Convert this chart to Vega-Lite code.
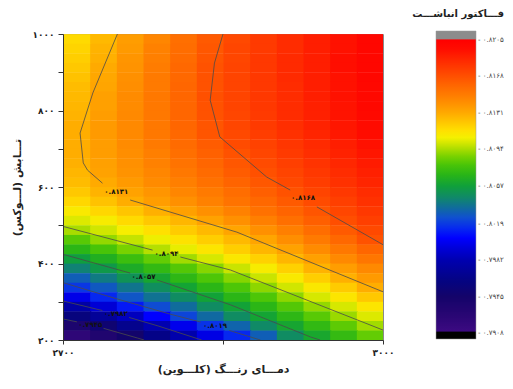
{
"$schema":"https://vega.github.io/schema/vega-lite/v6.json",
"width":320,"height":306,
"autosize":"none",
"padding":{"left":63,"top":34,"right":130,"bottom":49},
"background":"white",
"config":{"view":{"stroke":"#8a8a8a","strokeWidth":1},"rect":{"binSpacing":0},"bar":{"binSpacing":0}},
"datasets":{
"grid":[
{"t":2700,"l":975,"z":0.8115},{"t":2725,"l":975,"z":0.8126},{"t":2750,"l":975,"z":0.8136},{"t":2775,"l":975,"z":0.8145},{"t":2800,"l":975,"z":0.8155},{"t":2825,"l":975,"z":0.8164},{"t":2850,"l":975,"z":0.8171},{"t":2875,"l":975,"z":0.8177},{"t":2900,"l":975,"z":0.8183},{"t":2925,"l":975,"z":0.8189},{"t":2950,"l":975,"z":0.8194},{"t":2975,"l":975,"z":0.8200},
{"t":2700,"l":950,"z":0.8117},{"t":2725,"l":950,"z":0.8128},{"t":2750,"l":950,"z":0.8137},{"t":2775,"l":950,"z":0.8147},{"t":2800,"l":950,"z":0.8156},{"t":2825,"l":950,"z":0.8165},{"t":2850,"l":950,"z":0.8172},{"t":2875,"l":950,"z":0.8177},{"t":2900,"l":950,"z":0.8183},{"t":2925,"l":950,"z":0.8189},{"t":2950,"l":950,"z":0.8194},{"t":2975,"l":950,"z":0.8200},
{"t":2700,"l":925,"z":0.8119},{"t":2725,"l":925,"z":0.8129},{"t":2750,"l":925,"z":0.8139},{"t":2775,"l":925,"z":0.8148},{"t":2800,"l":925,"z":0.8157},{"t":2825,"l":925,"z":0.8166},{"t":2850,"l":925,"z":0.8172},{"t":2875,"l":925,"z":0.8178},{"t":2900,"l":925,"z":0.8184},{"t":2925,"l":925,"z":0.8189},{"t":2950,"l":925,"z":0.8195},{"t":2975,"l":925,"z":0.8200},
{"t":2700,"l":900,"z":0.8121},{"t":2725,"l":900,"z":0.8131},{"t":2750,"l":900,"z":0.8140},{"t":2775,"l":900,"z":0.8149},{"t":2800,"l":900,"z":0.8158},{"t":2825,"l":900,"z":0.8167},{"t":2850,"l":900,"z":0.8173},{"t":2875,"l":900,"z":0.8178},{"t":2900,"l":900,"z":0.8184},{"t":2925,"l":900,"z":0.8189},{"t":2950,"l":900,"z":0.8195},{"t":2975,"l":900,"z":0.8200},
{"t":2700,"l":875,"z":0.8123},{"t":2725,"l":875,"z":0.8132},{"t":2750,"l":875,"z":0.8141},{"t":2775,"l":875,"z":0.8150},{"t":2800,"l":875,"z":0.8158},{"t":2825,"l":875,"z":0.8167},{"t":2850,"l":875,"z":0.8173},{"t":2875,"l":875,"z":0.8178},{"t":2900,"l":875,"z":0.8184},{"t":2925,"l":875,"z":0.8189},{"t":2950,"l":875,"z":0.8194},{"t":2975,"l":875,"z":0.8200},
{"t":2700,"l":850,"z":0.8125},{"t":2725,"l":850,"z":0.8133},{"t":2750,"l":850,"z":0.8142},{"t":2775,"l":850,"z":0.8150},{"t":2800,"l":850,"z":0.8159},{"t":2825,"l":850,"z":0.8167},{"t":2850,"l":850,"z":0.8173},{"t":2875,"l":850,"z":0.8178},{"t":2900,"l":850,"z":0.8183},{"t":2925,"l":850,"z":0.8189},{"t":2950,"l":850,"z":0.8194},{"t":2975,"l":850,"z":0.8199},
{"t":2700,"l":825,"z":0.8126},{"t":2725,"l":825,"z":0.8135},{"t":2750,"l":825,"z":0.8143},{"t":2775,"l":825,"z":0.8151},{"t":2800,"l":825,"z":0.8159},{"t":2825,"l":825,"z":0.8168},{"t":2850,"l":825,"z":0.8173},{"t":2875,"l":825,"z":0.8178},{"t":2900,"l":825,"z":0.8183},{"t":2925,"l":825,"z":0.8189},{"t":2950,"l":825,"z":0.8194},{"t":2975,"l":825,"z":0.8199},
{"t":2700,"l":800,"z":0.8127},{"t":2725,"l":800,"z":0.8135},{"t":2750,"l":800,"z":0.8143},{"t":2775,"l":800,"z":0.8151},{"t":2800,"l":800,"z":0.8159},{"t":2825,"l":800,"z":0.8167},{"t":2850,"l":800,"z":0.8173},{"t":2875,"l":800,"z":0.8178},{"t":2900,"l":800,"z":0.8183},{"t":2925,"l":800,"z":0.8188},{"t":2950,"l":800,"z":0.8193},{"t":2975,"l":800,"z":0.8199},
{"t":2700,"l":775,"z":0.8128},{"t":2725,"l":775,"z":0.8136},{"t":2750,"l":775,"z":0.8144},{"t":2775,"l":775,"z":0.8151},{"t":2800,"l":775,"z":0.8159},{"t":2825,"l":775,"z":0.8167},{"t":2850,"l":775,"z":0.8172},{"t":2875,"l":775,"z":0.8177},{"t":2900,"l":775,"z":0.8183},{"t":2925,"l":775,"z":0.8188},{"t":2950,"l":775,"z":0.8193},{"t":2975,"l":775,"z":0.8198},
{"t":2700,"l":750,"z":0.8130},{"t":2725,"l":750,"z":0.8137},{"t":2750,"l":750,"z":0.8144},{"t":2775,"l":750,"z":0.8151},{"t":2800,"l":750,"z":0.8159},{"t":2825,"l":750,"z":0.8166},{"t":2850,"l":750,"z":0.8172},{"t":2875,"l":750,"z":0.8177},{"t":2900,"l":750,"z":0.8182},{"t":2925,"l":750,"z":0.8187},{"t":2950,"l":750,"z":0.8192},{"t":2975,"l":750,"z":0.8197},
{"t":2700,"l":725,"z":0.8130},{"t":2725,"l":725,"z":0.8137},{"t":2750,"l":725,"z":0.8144},{"t":2775,"l":725,"z":0.8151},{"t":2800,"l":725,"z":0.8158},{"t":2825,"l":725,"z":0.8166},{"t":2850,"l":725,"z":0.8171},{"t":2875,"l":725,"z":0.8176},{"t":2900,"l":725,"z":0.8181},{"t":2925,"l":725,"z":0.8186},{"t":2950,"l":725,"z":0.8191},{"t":2975,"l":725,"z":0.8196},
{"t":2700,"l":700,"z":0.8130},{"t":2725,"l":700,"z":0.8136},{"t":2750,"l":700,"z":0.8143},{"t":2775,"l":700,"z":0.8150},{"t":2800,"l":700,"z":0.8157},{"t":2825,"l":700,"z":0.8163},{"t":2850,"l":700,"z":0.8170},{"t":2875,"l":700,"z":0.8174},{"t":2900,"l":700,"z":0.8179},{"t":2925,"l":700,"z":0.8184},{"t":2950,"l":700,"z":0.8189},{"t":2975,"l":700,"z":0.8194},
{"t":2700,"l":675,"z":0.8130},{"t":2725,"l":675,"z":0.8136},{"t":2750,"l":675,"z":0.8142},{"t":2775,"l":675,"z":0.8148},{"t":2800,"l":675,"z":0.8155},{"t":2825,"l":675,"z":0.8161},{"t":2850,"l":675,"z":0.8167},{"t":2875,"l":675,"z":0.8172},{"t":2900,"l":675,"z":0.8177},{"t":2925,"l":675,"z":0.8182},{"t":2950,"l":675,"z":0.8187},{"t":2975,"l":675,"z":0.8192},
{"t":2700,"l":650,"z":0.8129},{"t":2725,"l":650,"z":0.8135},{"t":2750,"l":650,"z":0.8141},{"t":2775,"l":650,"z":0.8147},{"t":2800,"l":650,"z":0.8153},{"t":2825,"l":650,"z":0.8159},{"t":2850,"l":650,"z":0.8165},{"t":2875,"l":650,"z":0.8170},{"t":2900,"l":650,"z":0.8175},{"t":2925,"l":650,"z":0.8180},{"t":2950,"l":650,"z":0.8185},{"t":2975,"l":650,"z":0.8190},
{"t":2700,"l":625,"z":0.8127},{"t":2725,"l":625,"z":0.8134},{"t":2750,"l":625,"z":0.8140},{"t":2775,"l":625,"z":0.8145},{"t":2800,"l":625,"z":0.8151},{"t":2825,"l":625,"z":0.8157},{"t":2850,"l":625,"z":0.8163},{"t":2875,"l":625,"z":0.8168},{"t":2900,"l":625,"z":0.8173},{"t":2925,"l":625,"z":0.8178},{"t":2950,"l":625,"z":0.8183},{"t":2975,"l":625,"z":0.8188},
{"t":2700,"l":600,"z":0.8125},{"t":2725,"l":600,"z":0.8131},{"t":2750,"l":600,"z":0.8137},{"t":2775,"l":600,"z":0.8143},{"t":2800,"l":600,"z":0.8148},{"t":2825,"l":600,"z":0.8154},{"t":2850,"l":600,"z":0.8160},{"t":2875,"l":600,"z":0.8165},{"t":2900,"l":600,"z":0.8171},{"t":2925,"l":600,"z":0.8176},{"t":2950,"l":600,"z":0.8181},{"t":2975,"l":600,"z":0.8186},
{"t":2700,"l":575,"z":0.8121},{"t":2725,"l":575,"z":0.8128},{"t":2750,"l":575,"z":0.8134},{"t":2775,"l":575,"z":0.8139},{"t":2800,"l":575,"z":0.8145},{"t":2825,"l":575,"z":0.8150},{"t":2850,"l":575,"z":0.8156},{"t":2875,"l":575,"z":0.8162},{"t":2900,"l":575,"z":0.8167},{"t":2925,"l":575,"z":0.8173},{"t":2950,"l":575,"z":0.8178},{"t":2975,"l":575,"z":0.8183},
{"t":2700,"l":550,"z":0.8116},{"t":2725,"l":550,"z":0.8123},{"t":2750,"l":550,"z":0.8130},{"t":2775,"l":550,"z":0.8136},{"t":2800,"l":550,"z":0.8141},{"t":2825,"l":550,"z":0.8147},{"t":2850,"l":550,"z":0.8153},{"t":2875,"l":550,"z":0.8158},{"t":2900,"l":550,"z":0.8164},{"t":2925,"l":550,"z":0.8170},{"t":2950,"l":550,"z":0.8175},{"t":2975,"l":550,"z":0.8181},
{"t":2700,"l":525,"z":0.8109},{"t":2725,"l":525,"z":0.8116},{"t":2750,"l":525,"z":0.8122},{"t":2775,"l":525,"z":0.8129},{"t":2800,"l":525,"z":0.8135},{"t":2825,"l":525,"z":0.8141},{"t":2850,"l":525,"z":0.8147},{"t":2875,"l":525,"z":0.8154},{"t":2900,"l":525,"z":0.8160},{"t":2925,"l":525,"z":0.8166},{"t":2950,"l":525,"z":0.8172},{"t":2975,"l":525,"z":0.8178},
{"t":2700,"l":500,"z":0.8102},{"t":2725,"l":500,"z":0.8108},{"t":2750,"l":500,"z":0.8115},{"t":2775,"l":500,"z":0.8121},{"t":2800,"l":500,"z":0.8127},{"t":2825,"l":500,"z":0.8134},{"t":2850,"l":500,"z":0.8141},{"t":2875,"l":500,"z":0.8148},{"t":2900,"l":500,"z":0.8155},{"t":2925,"l":500,"z":0.8162},{"t":2950,"l":500,"z":0.8169},{"t":2975,"l":500,"z":0.8175},
{"t":2700,"l":475,"z":0.8094},{"t":2725,"l":475,"z":0.8100},{"t":2750,"l":475,"z":0.8107},{"t":2775,"l":475,"z":0.8113},{"t":2800,"l":475,"z":0.8120},{"t":2825,"l":475,"z":0.8126},{"t":2850,"l":475,"z":0.8133},{"t":2875,"l":475,"z":0.8141},{"t":2900,"l":475,"z":0.8148},{"t":2925,"l":475,"z":0.8156},{"t":2950,"l":475,"z":0.8164},{"t":2975,"l":475,"z":0.8171},
{"t":2700,"l":450,"z":0.8081},{"t":2725,"l":450,"z":0.8091},{"t":2750,"l":450,"z":0.8098},{"t":2775,"l":450,"z":0.8105},{"t":2800,"l":450,"z":0.8112},{"t":2825,"l":450,"z":0.8119},{"t":2850,"l":450,"z":0.8126},{"t":2875,"l":450,"z":0.8133},{"t":2900,"l":450,"z":0.8142},{"t":2925,"l":450,"z":0.8150},{"t":2950,"l":450,"z":0.8158},{"t":2975,"l":450,"z":0.8167},
{"t":2700,"l":425,"z":0.8069},{"t":2725,"l":425,"z":0.8078},{"t":2750,"l":425,"z":0.8087},{"t":2775,"l":425,"z":0.8096},{"t":2800,"l":425,"z":0.8104},{"t":2825,"l":425,"z":0.8111},{"t":2850,"l":425,"z":0.8119},{"t":2875,"l":425,"z":0.8127},{"t":2900,"l":425,"z":0.8134},{"t":2925,"l":425,"z":0.8143},{"t":2950,"l":425,"z":0.8151},{"t":2975,"l":425,"z":0.8159},
{"t":2700,"l":400,"z":0.8056},{"t":2725,"l":400,"z":0.8065},{"t":2750,"l":400,"z":0.8074},{"t":2775,"l":400,"z":0.8083},{"t":2800,"l":400,"z":0.8093},{"t":2825,"l":400,"z":0.8101},{"t":2850,"l":400,"z":0.8110},{"t":2875,"l":400,"z":0.8118},{"t":2900,"l":400,"z":0.8127},{"t":2925,"l":400,"z":0.8135},{"t":2950,"l":400,"z":0.8144},{"t":2975,"l":400,"z":0.8152},
{"t":2700,"l":375,"z":0.8043},{"t":2725,"l":375,"z":0.8053},{"t":2750,"l":375,"z":0.8063},{"t":2775,"l":375,"z":0.8071},{"t":2800,"l":375,"z":0.8080},{"t":2825,"l":375,"z":0.8089},{"t":2850,"l":375,"z":0.8099},{"t":2875,"l":375,"z":0.8108},{"t":2900,"l":375,"z":0.8118},{"t":2925,"l":375,"z":0.8128},{"t":2950,"l":375,"z":0.8136},{"t":2975,"l":375,"z":0.8144},
{"t":2700,"l":350,"z":0.8030},{"t":2725,"l":350,"z":0.8040},{"t":2750,"l":350,"z":0.8050},{"t":2775,"l":350,"z":0.8060},{"t":2800,"l":350,"z":0.8070},{"t":2825,"l":350,"z":0.8079},{"t":2850,"l":350,"z":0.8089},{"t":2875,"l":350,"z":0.8099},{"t":2900,"l":350,"z":0.8109},{"t":2925,"l":350,"z":0.8119},{"t":2950,"l":350,"z":0.8129},{"t":2975,"l":350,"z":0.8137},
{"t":2700,"l":325,"z":0.8018},{"t":2725,"l":325,"z":0.8028},{"t":2750,"l":325,"z":0.8038},{"t":2775,"l":325,"z":0.8048},{"t":2800,"l":325,"z":0.8059},{"t":2825,"l":325,"z":0.8069},{"t":2850,"l":325,"z":0.8079},{"t":2875,"l":325,"z":0.8090},{"t":2900,"l":325,"z":0.8100},{"t":2925,"l":325,"z":0.8110},{"t":2950,"l":325,"z":0.8120},{"t":2975,"l":325,"z":0.8130},
{"t":2700,"l":300,"z":0.7998},{"t":2725,"l":300,"z":0.8014},{"t":2750,"l":300,"z":0.8027},{"t":2775,"l":300,"z":0.8037},{"t":2800,"l":300,"z":0.8047},{"t":2825,"l":300,"z":0.8058},{"t":2850,"l":300,"z":0.8069},{"t":2875,"l":300,"z":0.8079},{"t":2900,"l":300,"z":0.8090},{"t":2925,"l":300,"z":0.8101},{"t":2950,"l":300,"z":0.8111},{"t":2975,"l":300,"z":0.8121},
{"t":2700,"l":275,"z":0.7977},{"t":2725,"l":275,"z":0.7993},{"t":2750,"l":275,"z":0.8010},{"t":2775,"l":275,"z":0.8024},{"t":2800,"l":275,"z":0.8035},{"t":2825,"l":275,"z":0.8047},{"t":2850,"l":275,"z":0.8058},{"t":2875,"l":275,"z":0.8069},{"t":2900,"l":275,"z":0.8080},{"t":2925,"l":275,"z":0.8091},{"t":2950,"l":275,"z":0.8101},{"t":2975,"l":275,"z":0.8111},
{"t":2700,"l":250,"z":0.7958},{"t":2725,"l":250,"z":0.7971},{"t":2750,"l":250,"z":0.7986},{"t":2775,"l":250,"z":0.8004},{"t":2800,"l":250,"z":0.8022},{"t":2825,"l":250,"z":0.8034},{"t":2850,"l":250,"z":0.8047},{"t":2875,"l":250,"z":0.8059},{"t":2900,"l":250,"z":0.8070},{"t":2925,"l":250,"z":0.8081},{"t":2950,"l":250,"z":0.8092},{"t":2975,"l":250,"z":0.8102},
{"t":2700,"l":225,"z":0.7938},{"t":2725,"l":225,"z":0.7950},{"t":2750,"l":225,"z":0.7966},{"t":2775,"l":225,"z":0.7982},{"t":2800,"l":225,"z":0.7999},{"t":2825,"l":225,"z":0.8017},{"t":2850,"l":225,"z":0.8032},{"t":2875,"l":225,"z":0.8046},{"t":2900,"l":225,"z":0.8060},{"t":2925,"l":225,"z":0.8071},{"t":2950,"l":225,"z":0.8082},{"t":2975,"l":225,"z":0.8093},
{"t":2700,"l":200,"z":0.7922},{"t":2725,"l":200,"z":0.7934},{"t":2750,"l":200,"z":0.7946},{"t":2775,"l":200,"z":0.7963},{"t":2800,"l":200,"z":0.7980},{"t":2825,"l":200,"z":0.7997},{"t":2850,"l":200,"z":0.8014},{"t":2875,"l":200,"z":0.8030},{"t":2900,"l":200,"z":0.8047},{"t":2925,"l":200,"z":0.8061},{"t":2950,"l":200,"z":0.8072},{"t":2975,"l":200,"z":0.8083}
],
"lines":[
{"s":"k8a","i":0,"t":2850,"l":1000},{"s":"k8a","i":1,"t":2842,"l":924},{"s":"k8a","i":2,"t":2838,"l":827},{"s":"k8a","i":3,"t":2847,"l":731},{"s":"k8a","i":4,"t":2891,"l":626},{"s":"k8a","i":5,"t":2913,"l":592},
{"s":"k8b","i":0,"t":2938,"l":548},{"s":"k8b","i":1,"t":2997,"l":454},{"s":"k8b","i":2,"t":3000,"l":449},
{"s":"k7a","i":0,"t":2751,"l":1000},{"s":"k7a","i":1,"t":2728,"l":846},{"s":"k7a","i":2,"t":2716,"l":741},{"s":"k7a","i":3,"t":2719,"l":663},{"s":"k7a","i":4,"t":2723,"l":644},{"s":"k7a","i":5,"t":2737,"l":610},
{"s":"k7b","i":0,"t":2763,"l":566},{"s":"k7b","i":1,"t":2863,"l":482},{"s":"k7b","i":2,"t":3000,"l":326},
{"s":"k6a","i":0,"t":2700,"l":497},{"s":"k6a","i":1,"t":2784,"l":435},
{"s":"k6b","i":0,"t":2810,"l":417},{"s":"k6b","i":1,"t":2857,"l":383},{"s":"k6b","i":2,"t":3000,"l":226},
{"s":"k5a","i":0,"t":2700,"l":424},{"s":"k5a","i":1,"t":2763,"l":375},
{"s":"k5b","i":0,"t":2788,"l":357},{"s":"k5b","i":1,"t":2857,"l":292},{"s":"k5b","i":2,"t":2932,"l":208},{"s":"k5b","i":3,"t":2941,"l":200},
{"s":"k4a","i":0,"t":2700,"l":350},{"s":"k4a","i":1,"t":2750,"l":308},{"s":"k4a","i":2,"t":2800,"l":268},{"s":"k4a","i":3,"t":2829,"l":247},
{"s":"k4b","i":0,"t":2856,"l":225},{"s":"k4b","i":1,"t":2885,"l":200},
{"s":"k3a","i":0,"t":2700,"l":302},{"s":"k3a","i":1,"t":2737,"l":277},
{"s":"k3b","i":0,"t":2762,"l":259},{"s":"k3b","i":1,"t":2790,"l":236},{"s":"k3b","i":2,"t":2830,"l":200},
{"s":"k2a","i":0,"t":2700,"l":255},{"s":"k2a","i":1,"t":2713,"l":247.5},
{"s":"k2b","i":0,"t":2738,"l":230.5},{"s":"k2b","i":1,"t":2770,"l":205},{"s":"k2b","i":2,"t":2776,"l":200}
],
"labels":[
{"t":2925,"l":571,"txt":"۰.۸۱۶۸"},
{"t":2750,"l":588,"txt":"۰.۸۱۳۱"},
{"t":2797,"l":426,"txt":"۰.۸۰۹۴"},
{"t":2775.5,"l":366,"txt":"۰.۸۰۵۷"},
{"t":2842.5,"l":236,"txt":"۰.۸۰۱۹"},
{"t":2749.5,"l":268,"txt":"۰.۷۹۸۲"},
{"t":2725.5,"l":239,"txt":"۰.۷۹۴۵"}
]
},
"layer":[
{"data":{"name":"grid"},
"mark":{"type":"rect","clip":true,"binSpacing":0},
"encoding":{
"x":{"field":"t","type":"quantitative","bin":{"binned":true,"step":26},"scale":{"domain":[2700,3000],"nice":false,"zero":false},
"axis":{"title":"دمـــای رنـــگ (کلـــوین)","values":[2700,2850,3000],"labelExpr":"datum.value == 2850 ? '' : replace(replace(replace(replace(replace(replace(replace(replace(replace(replace(format(datum.value,'d'),regexp('0','g'),'۰'),regexp('1','g'),'۱'),regexp('2','g'),'۲'),regexp('3','g'),'۳'),regexp('4','g'),'۴'),regexp('5','g'),'۵'),regexp('6','g'),'۶'),regexp('7','g'),'۷'),regexp('8','g'),'۸'),regexp('9','g'),'۹')","labelFont":"DejaVu Sans","labelFontSize":9,"labelFontWeight":"bold","labelColor":"#222","labelPadding":4,"labelFlush":false,"tickSize":4,"tickColor":"#333","domainColor":"#333","grid":false,"titleFont":"DejaVu Sans","titleFontSize":11,"titleFontWeight":"bold","titleColor":"#222","titlePadding":6}},
"y":{"field":"l","type":"quantitative","bin":{"binned":true,"step":26},"scale":{"domain":[200,1000],"nice":false,"zero":false},
"axis":{"title":"تـــابش (لـــوکس)","values":[200,300,400,500,600,700,800,900,1000],"labelExpr":"datum.value % 200 != 0 ? '' : replace(replace(replace(replace(replace(replace(replace(replace(replace(replace(format(datum.value,'d'),regexp('0','g'),'۰'),regexp('1','g'),'۱'),regexp('2','g'),'۲'),regexp('3','g'),'۳'),regexp('4','g'),'۴'),regexp('5','g'),'۵'),regexp('6','g'),'۶'),regexp('7','g'),'۷'),regexp('8','g'),'۸'),regexp('9','g'),'۹')","labelFont":"DejaVu Sans","labelFontSize":9,"labelFontWeight":"bold","labelColor":"#222","labelPadding":4,"labelFlush":false,"tickSize":5,"tickColor":"#333","domainColor":"#333","grid":false,"titleFont":"DejaVu Sans","titleFontSize":11,"titleFontWeight":"bold","titleColor":"#222","titlePadding":10}},
"color":{"field":"z","type":"quantitative",
"scale":{"type":"linear","zero":false,"nice":false,"clamp":true,"interpolate":"rgb",
"domain":[0.7902,0.79095,0.7910,0.7925,0.7945,0.7960,0.7982,0.7995,0.8004,0.8014,0.8025,0.8035,0.8045,0.8057,0.8068,0.8078,0.8087,0.8094,0.8100,0.8106,0.8113,0.8121,0.8131,0.8141,0.8150,0.8160,0.8168,0.8178,0.8188,0.8196,0.8205,0.82055,0.8214],
"range":["#000000","#000000","#3c0a82","#2a0674","#14046a","#050480","#0000b0","#0000dc","#0000ff","#0628f0","#1050d0","#106c9c","#10886a","#10a03a","#28b418","#48c408","#78d200","#a8dc00","#d0e600","#f4f000","#ffe000","#ffc800","#ffaa00","#ff9000","#ff7a00","#ff6400","#ff5000","#ff3800","#ff2000","#ff0c00","#ff0000","#8c8c8c","#8c8c8c"]},
"legend":{"type":"gradient","title":"فـــاکتور انباشـــت","orient":"none","legendX":349,"legendY":-25,"direction":"vertical","padding":0,
"gradientLength":308,"gradientThickness":40,"gradientStrokeColor":"#999","gradientStrokeWidth":0.5,
"values":[0.7908,0.7945,0.7982,0.8019,0.8057,0.8094,0.8131,0.8168,0.8205],
"labelExpr":"'- ' + replace(replace(replace(replace(replace(replace(replace(replace(replace(replace(format(datum.value,'.4f'),regexp('0','g'),'۰'),regexp('1','g'),'۱'),regexp('2','g'),'۲'),regexp('3','g'),'۳'),regexp('4','g'),'۴'),regexp('5','g'),'۵'),regexp('6','g'),'۶'),regexp('7','g'),'۷'),regexp('8','g'),'۸'),regexp('9','g'),'۹')",
"labelFont":"DejaVu Sans","labelFontSize":7,"labelColor":"#444","labelOffset":2,"labelOverlap":false,"labelFlush":false,"labelLimit":40,
"titleFont":"DejaVu Sans","titleFontSize":10,"titleFontWeight":"bold","titleColor":"#222","titleAnchor":"end","titlePadding":12,
"encode":{"gradient":{"update":{"fill":{"gradient":"color","start":[0,1],"stop":[0,0],"count":300}}}}}}
}},
{"data":{"name":"lines"},
"mark":{"type":"line","color":"#4a4a4a","strokeWidth":0.8},
"encoding":{
"x":{"field":"t","type":"quantitative","title":"دمـــای رنـــگ (کلـــوین)"},
"y":{"field":"l","type":"quantitative","title":"تـــابش (لـــوکس)"},
"detail":{"field":"s"},
"order":{"field":"i","type":"quantitative"}}},
{"data":{"name":"labels"},
"mark":{"type":"text","font":"DejaVu Sans","fontSize":7,"fontWeight":"bold","color":"#111"},
"encoding":{
"x":{"field":"t","type":"quantitative","title":"دمـــای رنـــگ (کلـــوین)"},
"y":{"field":"l","type":"quantitative","title":"تـــابش (لـــوکس)"},
"text":{"field":"txt"}}}
]
}
